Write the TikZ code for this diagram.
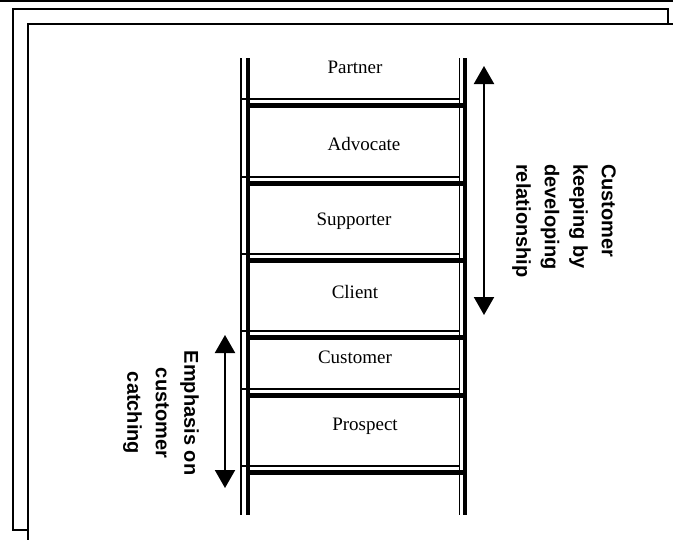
\documentclass[tikz,border=0pt]{standalone}
\usepackage{fontspec}
\setmainfont{Liberation Serif}
\newfontfamily\sidefont{Liberation Sans}
\usetikzlibrary{arrows.meta}
\begin{document}
\begin{tikzpicture}[x=1pt,y=-1pt,
  frame/.style={line width=2pt},
  thinrail/.style={line width=1.8pt},
  thickrail/.style={line width=4.5pt},
  stage/.style={font=\fontsize{19}{22}\selectfont, inner sep=0pt},
  side/.style={font=\sidefont\bfseries\fontsize{20}{28.5}\selectfont, rotate=-90, inner sep=0pt},
  twohead/.style={line width=2pt, {Triangle[width=20pt,length=18pt]}-{Triangle[width=20pt,length=18pt]}}]
\useasboundingbox (0,0) rectangle (673,542);

% page edge and the two offset frames
\draw[line width=2.5pt] (0,1) -- (673,1);
\draw[frame] (668,24) -- (668,9) -- (13,9) -- (13,530) -- (28,530);
\draw[frame] (673,24) -- (28,24) -- (28,540);

% ladder rails
\draw[thinrail] (241,58) -- (241,515);
\draw[thickrail] (248,58) -- (248,515);
\draw[thinrail] (459.5,58) -- (459.5,515);
\draw[thickrail] (465,58) -- (465,515);

% rungs: a thin line above a thick one
\foreach \ry in {105,183,260,337,395,472} {
  \draw[line width=1.5pt] (241,{\ry-6}) -- (459.5,{\ry-6});
  \draw[line width=5pt] (248,\ry) -- (465,\ry);
}

% stages of the ladder
\node[stage] (partner)   at (355,67)  {Partner};
\node[stage] (advocate)  at (364,144) {Advocate};
\node[stage] (supporter) at (354,221) {Supporter};
\node[stage] (client)    at (355,292) {Client};
\node[stage] (customer)  at (355,357) {Customer};
\node[stage] (prospect)  at (365,426) {Prospect};

% double-headed arrows
\coordinate (keepTop) at (484,66);
\coordinate (keepBot) at (484,315);
\draw[twohead] (keepTop) -- (keepBot);
\coordinate (catchTop) at (225,335);
\coordinate (catchBot) at (225,488);
\draw[twohead] (catchTop) -- (catchBot);

% side captions
\node[side, align=left, anchor=north west] (keeping) at (616,164)
  {Customer\\keeping by\\developing\\relationship};
\node[side, align=center] (catching) at (161,413)
  {Emphasis on\\customer\\catching};
\end{tikzpicture}
\end{document}
